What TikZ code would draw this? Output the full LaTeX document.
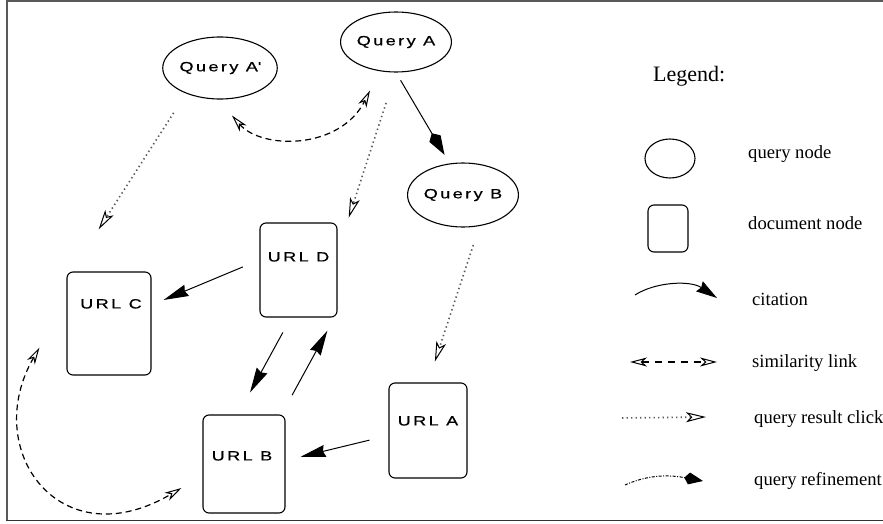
\documentclass[tikz,border=0pt]{standalone}
\usepackage{fontspec}
\setmainfont{Liberation Serif}
\newfontfamily\nodefont[FakeStretch=1.35,LetterSpace=18,FakeBold=0.6]{Liberation Sans}
\usetikzlibrary{arrows.meta,shapes.geometric,calc}
\begin{document}
\begin{tikzpicture}[x=1pt,y=-1pt,
  qnode/.style={ellipse,draw,line width=1.1pt,inner sep=0pt,
    font=\nodefont\fontsize{13.4}{14}\selectfont},
  dnode/.style={draw,rounded corners=6pt,line width=1.1pt,inner sep=0pt},
  dlabel/.style={anchor=base,inner sep=0pt,
    font=\nodefont\fontsize{13.4}{14}\selectfont},
  cite/.style={line width=1pt,-{Stealth[length=25pt,width=12pt,inset=2pt]}},
  lcite/.style={line width=1pt,-{Stealth[length=21pt,width=12pt,inset=2pt]}},
  click/.style={gray!70!black,line width=1.6pt,dash pattern=on 1.4pt off 3.1pt,
    -{Stealth[open,length=20pt,width=10pt,inset=5pt,black,line width=1pt]}},
  simtip/.tip={Stealth[open,length=17pt,width=9pt,inset=5pt,line width=1pt]},
  sim/.style={line width=1.2pt,dash pattern=on 6pt off 4pt,simtip-simtip},
  lsim/.style={line width=1.1pt,dash pattern=on 7pt off 6pt,simtip-simtip},
  refine/.style={line width=1pt,-{Kite[length=25pt,width=13pt]}},
  lrefine/.style={line width=1pt,dash pattern=on 3pt off 1.5pt on 1pt off 1.5pt,
    -{Kite[length=19pt,width=12pt]}},
  legtext/.style={anchor=base west,inner sep=0pt,font=\fontsize{18.6}{20}\selectfont},
]
\useasboundingbox (0,0) rectangle (883,524);

% frame
\draw[line width=2pt,gray!70!black] (6.5,521) -- (6.5,1) -- (883,1);
\draw[line width=1.5pt,black!80] (6,520.5) -- (883,520.5);

% query nodes
\node[qnode,minimum width=107pt,minimum height=60pt] (qa) at (396,42) {Query A};
\node[qnode,minimum width=106pt,minimum height=62pt] (qap) at (220,68) {Query A\textquotesingle};
\node[qnode,minimum width=107pt,minimum height=64pt] (qb) at (463,195) {Query B};

% document nodes
\node[dnode,minimum width=78pt,minimum height=95pt] (ua) at (428,430.5) {};
\node[dnode,minimum width=77pt,minimum height=94pt] (ud) at (298.5,270) {};
\node[dnode,minimum width=84pt,minimum height=103pt] (uc) at (109,323.5) {};
\node[dnode,minimum width=82pt,minimum height=98pt] (ub) at (244,464) {};
\node[dlabel] (uaL) at ($(ua.north)+(0,43)$) {URL A};
\node[dlabel] (udL) at ($(ud.north)+(0,39)$) {URL D};
\node[dlabel] (ucL) at ($(uc.north)+(2,37)$) {URL C};
\node[dlabel] (ubL) at ($(ub.north)+(-2,46)$) {URL B};

% query refinement
\draw[refine,shorten <=9pt,shorten >=10pt] (qa.south) -- (qb.113);

% query result clicks
\draw[click,shorten <=32pt,shorten >=36pt] (qa.south) -- ($(ud.north east)!0.31!(ud.south east)$);
\draw[click,shorten <=23pt,shorten >=50pt] (qap.217) -- ($(uc.north west)!0.06!(uc.north east)$);
\draw[click,shorten <=20pt,shorten >=22pt] (qb.-62) -- (ua.north);

% similarity links
\draw[sim] ($(qap.south)+(12,16)$) .. controls (262,150) and (340,150) .. ($(qa.south)+(-26,18)$);
\draw[sim] ($(uc.south west)+(-27,-28)$) .. controls (-20,450) and (60,560) .. ($(ub.west)+(-21,24)$);

% citations
\draw[cite,shorten <=18pt,shorten >=13pt] ($(ud.west)+(0,-10)$) -- ($(uc.east)+(0,-18.5)$);
\draw[cite,shorten <=17pt,shorten >=25pt] ($(ud.south)+(-7.5,0)$) -- ($(ub.north)+(-6,0)$);
\draw[cite,shorten <=22pt,shorten >=15pt] ($(ub.north east)+(-4,0)$) -- ($(ud.south east)+(-3,0)$);
\draw[cite,shorten <=19.5pt,shorten >=15.5pt] ($(ua.west)+(0,5)$) -- ($(ub.east)+(0,-3.5)$);

% legend
\node[anchor=base west,inner sep=0pt,font=\fontsize{22}{24}\selectfont] (leg) at (653,82) {Legend:};
\node[ellipse,draw,line width=1.1pt,minimum width=50pt,minimum height=39pt,inner sep=0pt] (lq) at (670,158.5) {};
\node[legtext] (lqT) at (748,158) {query node};
\node[dnode,minimum width=40pt,minimum height=47pt] (ld) at (668,228.5) {};
\node[legtext] (ldT) at (748,229) {document node};

\coordinate (c1a) at (635,295);
\coordinate (c1b) at (717,298);
\draw[lcite] (c1a) .. controls (655,282) and (690,280) .. (c1b);
\node[legtext] (lcT) at (752,305) {citation};

\coordinate (s1a) at (630,362);
\coordinate (s1b) at (717,362);
\draw[lsim] (s1a) -- (s1b);
\node[legtext] (lsT) at (752,367) {similarity link};

\coordinate (k1a) at (622,418);
\coordinate (k1b) at (706,417);
\draw[click] (k1a) -- (k1b);
\node[legtext] (lkT) at (754,423) {query result click};

\coordinate (r1a) at (625,485);
\coordinate (r1b) at (703,481);
\draw[lrefine] (r1a) .. controls (645,476) and (665,474) .. (r1b);
\node[legtext] (lrT) at (754,485) {query refinement};
\end{tikzpicture}
\end{document}
